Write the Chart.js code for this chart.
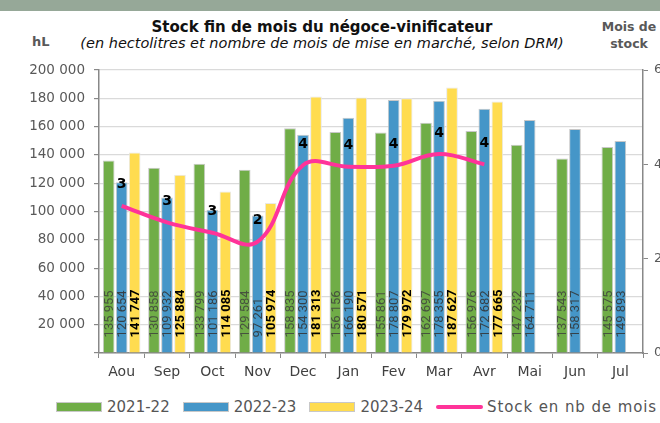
<!DOCTYPE html>
<html>
<head>
<meta charset="utf-8">
<script src="https://cdn.jsdelivr.net/npm/chart.js@4.4.1/dist/chart.umd.min.js"></script>
<style>
  body { margin: 0; width: 660px; height: 423px; overflow: hidden; background: #fff; position: relative; font-family: "DejaVu Sans", sans-serif; }
  #band { position: absolute; left: 0; top: 0; width: 660px; height: 11px; background: #96a898; }
  #title { position: absolute; left: 0; width: 644px; top: 18px; text-align: center; font-weight: bold; font-size: 15px; color: #111; }
  #sub { position: absolute; left: 0; width: 644px; top: 35px; text-align: center; font-style: italic; font-size: 14.5px; color: #111; }
  #hl { position: absolute; left: 32px; top: 34px; font-weight: bold; font-size: 13px; color: #595959; }
  #ms { position: absolute; left: 599px; top: 18px; width: 60px; text-align: center; font-weight: bold; font-size: 12.5px; line-height: 17px; color: #595959; }
  #wrap { position: absolute; left: 0; top: 0; width: 672px; height: 385px; }
  #legend { position: absolute; left: 56px; top: 398px; display: flex; align-items: center; font-size: 15px; color: #555; white-space: nowrap; }
  #legend .box { width: 44px; height: 8px; border: 1px solid #c8c8c8; margin-right: 5px; }
  #legend .ln { width: 47px; height: 4px; border-radius: 2px; background: #ff3399; margin-right: 4px; }
  #legend span.t { margin-right: 13px; }
</style>
</head>
<body>
<div id="band"></div>
<div id="title">Stock fin de mois du négoce-vinificateur</div>
<div id="sub">(en hectolitres et nombre de mois de mise en marché, selon DRM)</div>
<div id="hl">hL</div>
<div id="ms">Mois de<br>stock</div>
<div id="wrap"><canvas id="stock" width="672" height="385"></canvas></div>
<div id="legend">
  <div class="box" style="background:#70ad47"></div><span class="t">2021-22</span>
  <div class="box" style="background:#4596c8"></div><span class="t">2022-23</span>
  <div class="box" style="background:#ffdc4f"></div><span class="t">2023-24</span>
  <div class="ln"></div><span style="letter-spacing:0.9px">Stock en nb de mois</span>
</div>
<script>
// Données
const months = ["Aou", "Sep", "Oct", "Nov", "Dec", "Jan", "Fev", "Mar", "Avr", "Mai", "Jun", "Jul"];
const stock2122 = [135955, 130858, 133799, 129584, 158835, 156156, 155861, 162697, 156976, 147232, 137543, 145575];
const stock2223 = [120654, 109932, 101186, 97261, 154300, 166190, 178807, 178355, 172682, 164711, 158317, 149893];
const stock2324 = [141747, 125884, 114085, 105974, 181313, 180571, 179972, 187627, 177665, null, null, null];
const stockMonths = [3.12, 2.77, 2.55, 2.36, 3.98, 3.95, 3.97, 4.22, 4.0, null, null, null];
const hlTicks = [0, 20000, 40000, 60000, 80000, 100000, 120000, 140000, 160000, 180000, 200000];

const fmt = (v) => v.toString().replace(/\B(?=(\d{3})+(?!\d))/g, " ");
const font = "'DejaVu Sans', sans-serif";

// étiquettes des barres (verticales) et de la courbe
const labelsPlugin = {
  id: "labels",
  afterDraw(chart) {
    const ctx = chart.ctx;
    chart.data.datasets.forEach((ds, i) => {
      const meta = chart.getDatasetMeta(i);
      meta.data.forEach((el, j) => {
        const v = ds.data[j];
        if (v == null) return;
        ctx.save();
        if (ds.type === "line") {
          ctx.font = "bold 14px " + font;
          ctx.fillStyle = "#000";
          ctx.textAlign = "center";
          ctx.textBaseline = "middle";
          ctx.fillText(Math.round(v), el.x, el.y - 21);
        } else {
          ctx.translate(el.x, el.base - 15);
          ctx.rotate(-Math.PI / 2);
          ctx.font = (ds.lblBold ? "bold " : "") + "13px Roboto, sans-serif";
          ctx.fillStyle = ds.lblColor;
          ctx.textAlign = "left";
          ctx.textBaseline = "middle";
          ctx.fillText(fmt(v), 0, 1);
        }
        ctx.restore();
      });
    });
  },
};

new Chart(document.getElementById("stock"), {
  type: "bar",
  data: {
    labels: months,
    datasets: [
      {
        type: "line",
        label: "Stock en nb de mois",
        data: stockMonths,
        yAxisID: "y1",
        borderColor: "#ff3399",
        borderWidth: 4,
        pointRadius: 0,
        tension: 0.4,
        order: 0,
      },
      {
        label: "2021-22",
        data: stock2122,
        backgroundColor: "#70ad47",
        borderColor: "#c8c8c8",
        borderWidth: 1,
        lblColor: "rgba(60,60,60,0.8)",
        order: 1,
      },
      {
        label: "2022-23",
        data: stock2223,
        backgroundColor: "#4596c8",
        borderColor: "#c8c8c8",
        borderWidth: 1,
        lblColor: "rgba(50,50,50,0.85)",
        order: 1,
      },
      {
        label: "2023-24",
        data: stock2324,
        backgroundColor: "#ffdc4f",
        borderColor: "#e8e8e8",
        borderWidth: 1,
        lblColor: "#000",
        lblBold: true,
        order: 1,
      },
    ],
  },
  options: {
    responsive: false,
    maintainAspectRatio: false,
    animation: false,
    devicePixelRatio: 1,
    layout: { padding: { top: 70, left: 0, right: 0, bottom: 0 } },
    datasets: { bar: { categoryPercentage: 0.86, barPercentage: 0.9 } },
    plugins: { legend: { display: false }, tooltip: { enabled: false } },
    scales: {
      x: {
        offset: true,
        grid: { offset: true, drawOnChartArea: false, tickLength: 5, tickColor: "#888" },
        border: { color: "#888", width: 1.5 },
        ticks: { color: "#404040", font: { family: font, size: 14 }, padding: 6, maxRotation: 0 },
        afterFit: (s) => { s.height = 32; },
      },
      y: {
        min: 0,
        max: 200000,
        afterBuildTicks: (s) => { s.ticks = hlTicks.map((v) => ({ value: v })); },
        grid: { color: "#dadada", lineWidth: 1.2, tickLength: 5, tickColor: "#888" },
        border: { color: "#888", width: 1.5 },
        ticks: {
          color: "#595959",
          font: { family: font, size: 13.5 },
          padding: 9,
          callback: (v) => (v === 0 ? "" : fmt(v)),
        },
        afterFit: (s) => { s.width = 99; },
      },
      y1: {
        position: "right",
        min: 0,
        max: 6,
        ticks: { stepSize: 2, color: "#595959", font: { family: font, size: 13 }, padding: 6 },
        grid: { drawOnChartArea: false, tickLength: 5, tickColor: "#888" },
        border: { color: "#888", width: 1.5 },
        afterFit: (s) => { s.width = 29; },
      },
    },
  },
  plugins: [labelsPlugin],
});
</script>
</body>
</html>
